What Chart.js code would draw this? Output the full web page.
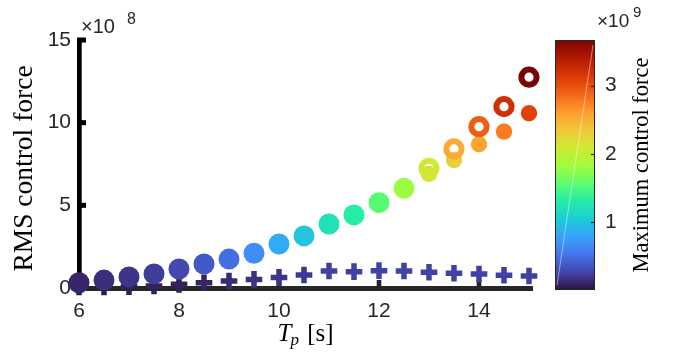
<!DOCTYPE html>
<html><head><meta charset="utf-8">
<script src="https://cdn.jsdelivr.net/npm/chart.js@4/dist/chart.umd.min.js"></script>
<style>
html,body{margin:0;padding:0;background:#fff;}
#wrap{position:relative;width:675px;height:354px;overflow:hidden;}
canvas{position:absolute;left:0;top:0;}
</style></head><body>
<div id="wrap"><canvas id="main" width="675" height="354"></canvas><canvas id="cb" width="675" height="354"></canvas></div>
<script>
// ---- data ----
const Tp = [6,6.5,7,7.5,8,8.5,9,9.5,10,10.5,11,11.5,12,12.5,13,13.5,14,14.5,15];
// RMS control force (x1e8), filled circles
const rmsForce = [0.32,0.48,0.67,0.85,1.15,1.45,1.75,2.10,2.66,3.15,3.87,4.42,5.16,6.03,6.90,7.74,8.69,9.46,10.57];
// maximum control force (x1e9) -> colour
const rmsMaxForce = [0.11,0.15,0.18,0.22,0.29,0.37,0.48,0.66,0.84,0.99,1.21,1.32,1.54,1.80,2.13,2.28,2.57,2.77,3.08];
// ring markers
const ringTp = [13,13.5,14,14.5,15];
const ringForce = [7.24,8.41,9.76,10.97,12.75];
const ringMaxForce = [2.09,2.53,2.92,3.22,3.67];
// plus markers
const crossForce = [0.06,0.07,0.08,0.12,0.22,0.32,0.42,0.52,0.64,0.79,1.03,0.99,1.05,1.03,0.95,0.89,0.85,0.77,0.73];
const crossMaxForce = [0.04,0.045,0.055,0.07,0.08,0.09,0.13,0.165,0.18,0.2,0.24,0.24,0.25,0.25,0.25,0.25,0.24,0.24,0.24];
// ticks
const xTicks = [6,8,10,12,14];
const yTicks = [0,5,10,15];
const cbTicks = [1,2,3];
const cRange = [0,3.67];
const xRange = [6,15.06];
const yRange = [0,15];

// ---- turbo colormap ----
const turboStops = ["#30123b","#4145ab","#4675ed","#39a2fc","#1bcfd4","#24eca6","#61fc6c","#a4fc3b","#d1e834","#f3c63a","#fe9b2d","#f36315","#d93806","#b11901","#7a0403"];
function hex2rgb(h){return [parseInt(h.substr(1,2),16),parseInt(h.substr(3,2),16),parseInt(h.substr(5,2),16)];}
const turboRGB = turboStops.map(hex2rgb);
function turbo(v){
  let t=(v-cRange[0])/(cRange[1]-cRange[0]); t=Math.max(0,Math.min(1,t));
  const n=turboRGB.length-1, p=t*n, i=Math.min(Math.floor(p),n-1), f=p-i;
  const a=turboRGB[i], b=turboRGB[i+1];
  return 'rgb('+[0,1,2].map(k=>Math.round(a[k]+(b[k]-a[k])*f)).join(',')+')';
}

const SANS='"Liberation Sans", Arial, sans-serif';
const SERIF='"Liberation Serif", "Times New Roman", serif';

const mainDecor = {
  id:'mainDecor',
  beforeDatasetsDraw(chart){
    const {ctx, scales:{x,y}} = chart;
    ctx.save();
    ctx.fillStyle='#000';
    yTicks.forEach(v=>{ if(v===0) return; const py=y.getPixelForValue(v); ctx.fillRect(x.left-2, py-2.5, 9, 5); });
    ctx.fillStyle='#262626';
    xTicks.forEach(v=>{ const px=x.getPixelForValue(v); ctx.fillRect(px-2.3, y.bottom-8, 4.6, 8); });
    ctx.restore();
  },
  afterDraw(chart){
    const {ctx, scales:{x,y}} = chart;
    ctx.save();
    ctx.fillStyle='#262626';
    ctx.textBaseline='alphabetic';
    ctx.textAlign='left';
    ctx.font='20px '+SANS;
    ctx.fillText('\u00d710', 81, 33);
    ctx.font='16px '+SANS;
    ctx.fillText('8', 127, 24);
    // y label
    ctx.fillStyle='#000';
    ctx.save();
    ctx.translate(32, 168.5);
    ctx.rotate(-Math.PI/2);
    ctx.textAlign='center';
    ctx.font='27.5px '+SERIF;
    ctx.fillText('RMS control force', 0, 0);
    ctx.restore();
    // x label
    const cx=(x.left+x.right)/2;
    ctx.font='italic 25px '+SERIF;
    const wT=ctx.measureText('T').width;
    ctx.font='italic 17px '+SERIF;
    const wp=ctx.measureText('p').width;
    ctx.font='25px '+SERIF;
    const ws=ctx.measureText(' [s]').width;
    let sx=cx-(wT+wp+ws+1)/2;
    const by=341;
    ctx.font='italic 25px '+SERIF; ctx.fillText('T', sx, by); sx+=wT-1;
    ctx.font='italic 17px '+SERIF; ctx.fillText('p', sx, by+4); sx+=wp+2;
    ctx.font='25px '+SERIF; ctx.fillText(' [s]', sx, by);
    ctx.restore();
  }
};

new Chart(document.getElementById('main'), {
  type:'scatter',
  data:{datasets:[
    {label:'RMS', data:Tp.map((v,i)=>({x:v,y:rmsForce[i]})), pointStyle:'circle',
     pointRadius:c=>(Tp[c.dataIndex]>=13?8.2:10.5), pointBorderWidth:0,
     pointBackgroundColor:c=>turbo(rmsMaxForce[c.dataIndex]), pointBorderColor:'rgba(0,0,0,0)', order:2, clip:false},
    {label:'Ring', data:ringTp.map((v,i)=>({x:v,y:ringForce[i]})), pointStyle:'circle',
     pointRadius:7.6, pointBorderWidth:6, pointBackgroundColor:'rgba(0,0,0,0)',
     pointBorderColor:c=>turbo(ringMaxForce[c.dataIndex]), order:1, clip:false},
    {label:'Cross', data:Tp.map((v,i)=>({x:v,y:crossForce[i]})), pointStyle:'cross',
     pointRadius:8.3, pointBorderWidth:5.5,
     pointBorderColor:c=>turbo(crossMaxForce[c.dataIndex]), order:3, clip:false}
  ]},
  options:{
    responsive:false, animation:false, events:[],
    layout:{padding:{top:40,right:143,left:0,bottom:0}},
    plugins:{legend:{display:false},tooltip:{enabled:false}},
    scales:{
      x:{type:'linear', min:xRange[0], max:xRange[1],
         afterBuildTicks:s=>{s.ticks=xTicks.map(v=>({value:v}));},
         afterFit:s=>{s.height=66;},
         grid:{display:false, drawTicks:false},
         border:{display:true, color:'#262626', width:5},
         ticks:{font:{family:SANS,size:21}, color:'#262626', padding:11, maxRotation:0, autoSkip:false}},
      y:{type:'linear', min:yRange[0], max:yRange[1],
         afterBuildTicks:s=>{s.ticks=yTicks.map(v=>({value:v}));},
         afterFit:s=>{s.width=79;},
         grid:{display:false, drawTicks:false},
         border:{display:true, color:'#000', width:4.7},
         ticks:{font:{family:SANS,size:21}, color:'#262626', padding:8, autoSkip:false}}
    }
  },
  plugins:[mainDecor]
});

// ---- colour bar ----
const cbDecor = {
  id:'cbDecor',
  afterDraw(chart){
    const {ctx, chartArea:a, scales:{y}} = chart;
    ctx.save();
    ctx.strokeStyle='rgba(255,255,255,0.45)'; ctx.lineWidth=1;
    ctx.beginPath(); ctx.moveTo(a.left+2,a.bottom-5); ctx.lineTo(a.right-2,a.top+5); ctx.stroke();
    ctx.strokeStyle='#262626'; ctx.lineWidth=1;
    ctx.strokeRect(a.left+0.5,a.top+0.5,a.right-a.left-1,a.bottom-a.top-1);
    ctx.lineWidth=1.2;
    cbTicks.forEach(v=>{const py=Math.round(y.getPixelForValue(v))+0.5; ctx.beginPath(); ctx.moveTo(a.right-4,py); ctx.lineTo(a.right,py); ctx.stroke();});
    ctx.fillStyle='#262626'; ctx.textAlign='left'; ctx.textBaseline='alphabetic';
    ctx.font='19px '+SANS; ctx.fillText('\u00d710', 597, 27);
    ctx.font='15px '+SANS; ctx.fillText('9', 633, 17);
    ctx.fillStyle='#000';
    ctx.translate(648,(a.top+a.bottom)/2);
    ctx.rotate(-Math.PI/2);
    ctx.textAlign='center';
    ctx.font='22.5px '+SERIF;
    ctx.fillText('Maximum control force',0,0);
    ctx.restore();
  }
};
new Chart(document.getElementById('cb'), {
  type:'bar',
  data:{labels:['c'], datasets:[{data:[[cRange[0],cRange[1]]], borderWidth:0,
    barPercentage:1, categoryPercentage:1, borderSkipped:false,
    backgroundColor:c=>{
      const a=c.chart.chartArea; if(!a) return '#888';
      const g=c.chart.ctx.createLinearGradient(0,a.bottom,0,a.top);
      turboStops.forEach((h,i)=>g.addColorStop(i/(turboStops.length-1),h));
      return g;
    }}]},
  options:{
    responsive:false, animation:false, events:[],
    layout:{padding:{top:40,right:0,left:555,bottom:64}},
    plugins:{legend:{display:false},tooltip:{enabled:false}},
    scales:{
      x:{display:false},
      y:{position:'right', min:cRange[0], max:cRange[1],
         afterBuildTicks:s=>{s.ticks=cbTicks.map(v=>({value:v}));},
         afterFit:s=>{s.width=80;},
         grid:{display:false, drawTicks:false}, border:{display:false},
         ticks:{font:{family:SANS,size:21}, color:'#262626', padding:10}}
    }
  },
  plugins:[cbDecor]
});
</script>
</body></html>
